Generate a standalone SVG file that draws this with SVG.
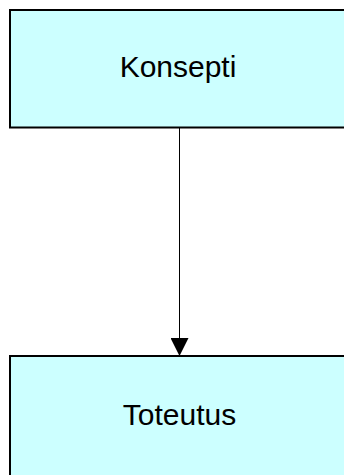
<svg xmlns="http://www.w3.org/2000/svg" width="344" height="475" viewBox="0 0 344 475">
  <style>
    .box { fill: #ccffff; stroke: #000; stroke-width: 2; }
    .label { font-family: "Liberation Sans", Arial, sans-serif; font-size: 30px; fill: #000; text-anchor: middle; }
    .edge { stroke: #000; stroke-width: 1; fill: none; }
  </style>
  <defs>
    <marker id="arrow" markerWidth="18" markerHeight="18" refX="18" refY="9" orient="auto" markerUnits="userSpaceOnUse">
      <path d="M0,0 L18,9 L0,18 Z" fill="#000"/>
    </marker>
  </defs>
  <rect width="344" height="475" fill="#fff"/>
  <g id="connectors">
    <line class="edge" x1="179.5" y1="128" x2="179.5" y2="356" marker-end="url(#arrow)"/>
  </g>
  <g id="konsepti">
    <rect class="box" x="10" y="10" width="340" height="117.5"/>
    <text class="label" x="178" y="77">Konsepti</text>
  </g>
  <g id="toteutus">
    <rect class="box" x="10" y="356" width="340" height="130"/>
    <text class="label" x="179.5" y="425">Toteutus</text>
  </g>
</svg>
